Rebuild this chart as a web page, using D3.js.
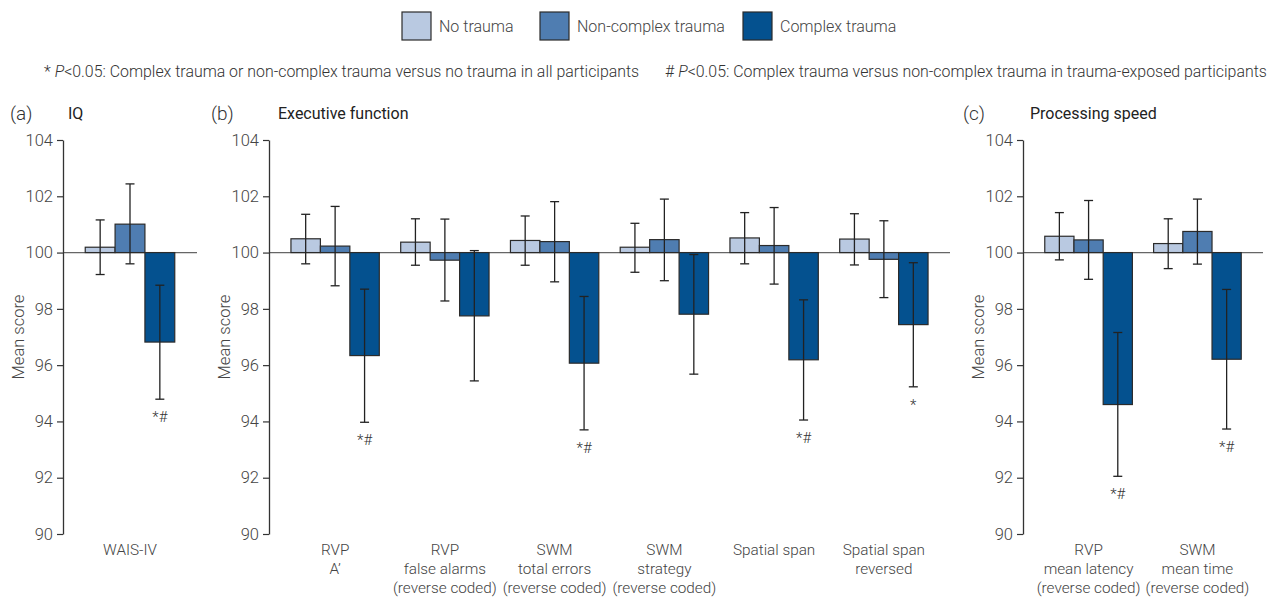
<!DOCTYPE html>
<html>
<head>
<meta charset="utf-8">
<script src="https://cdn.jsdelivr.net/npm/d3@7"></script>
<style>
  body { margin: 0; background: #fff; }
  svg { font-family: Roboto, "Noto Sans", sans-serif; font-weight: 300; }
</style>
</head>
<body>
<svg id="chart" width="1269" height="597"></svg>
<script>
// groups (legend)
const groups = ["No trauma", "Non-complex trauma", "Complex trauma"];
const groupColors = ["#b9c9e1", "#4f7db1", "#04518f"];

// (a) IQ
const iqTests = [["WAIS-IV"]];
const iqMeans = [[100.19, 101.01, 96.82]];
const iqLow = [[99.22, 99.60, 94.79]];
const iqHigh = [[101.16, 102.44, 98.84]];
const iqSig = ["*#"];

// (b) Executive function
const efTests = [
  ["RVP", "A\u2019"],
  ["RVP", "false alarms", "(reverse coded)"],
  ["SWM", "total errors", "(reverse coded)"],
  ["SWM", "strategy", "(reverse coded)"],
  ["Spatial span"],
  ["Spatial span", "reversed"]
];
const efMeans = [
  [100.49, 100.23, 96.34],
  [100.37, 99.73, 97.75],
  [100.43, 100.39, 96.07],
  [100.19, 100.46, 97.81],
  [100.52, 100.25, 96.19],
  [100.48, 99.76, 97.44]
];
const efLow = [
  [99.60, 98.82, 93.97],
  [99.55, 98.28, 95.44],
  [99.55, 98.96, 93.70],
  [99.30, 99.00, 95.68],
  [99.60, 98.88, 94.05],
  [99.56, 98.40, 95.23]
];
const efHigh = [
  [101.36, 101.64, 98.70],
  [101.20, 101.19, 100.07],
  [101.30, 101.81, 98.44],
  [101.04, 101.90, 99.93],
  [101.42, 101.60, 98.32],
  [101.38, 101.13, 99.64]
];
const efSig = ["*#", "", "*#", "", "*#", "*"];

// (c) Processing speed
const psTests = [
  ["RVP", "mean latency", "(reverse coded)"],
  ["SWM", "mean time", "(reverse coded)"]
];
const psMeans = [[100.58, 100.45, 94.60], [100.32, 100.75, 96.21]];
const psLow = [[99.74, 99.05, 92.05], [99.43, 99.59, 93.73]];
const psHigh = [[101.42, 101.85, 97.16], [101.20, 101.90, 98.69]];
const psSig = ["*#", "*#"];

const yTicks = [90, 92, 94, 96, 98, 100, 102, 104];

const svg = d3.select("#chart");

// shared y scale
const y = d3.scaleLinear().domain([90, 104]).range([534, 140]);

const panels = [
  { tag: "(a)", title: "IQ", x0: 63, x1: 197, tagX: 10, titleX: 68,
    tests: iqTests, means: iqMeans, low: iqLow, high: iqHigh, sig: iqSig },
  { tag: "(b)", title: "Executive function", x0: 269, x1: 950, tagX: 211, titleX: 278,
    tests: efTests, means: efMeans, low: efLow, high: efHigh, sig: efSig },
  { tag: "(c)", title: "Processing speed", x0: 1023, x1: 1263, tagX: 963, titleX: 1030,
    tests: psTests, means: psMeans, low: psLow, high: psHigh, sig: psSig }
];

panels.forEach(function (p) {
  const g = svg.append("g");

  const x = d3.scaleBand()
    .domain(d3.range(p.tests.length))
    .range([p.x0, p.x1])
    .paddingInner(0.195)
    .paddingOuter(0.2);

  const xSub = d3.scaleBand()
    .domain(d3.range(groups.length))
    .range([0, x.bandwidth()]);

  // baseline at 100
  g.append("line")
    .attr("x1", p.x0).attr("x2", p.x1)
    .attr("y1", y(100)).attr("y2", y(100))
    .attr("stroke", "#666").attr("stroke-width", 1.3);

  p.tests.forEach(function (t, i) {
    const tg = g.append("g").attr("transform", "translate(" + x(i) + ",0)");

    // bars
    tg.selectAll("rect")
      .data(p.means[i])
      .enter()
      .append("rect")
      .attr("x", (d, j) => xSub(j))
      .attr("width", xSub.bandwidth())
      .attr("y", d => Math.min(y(d), y(100)))
      .attr("height", d => Math.abs(y(d) - y(100)))
      .attr("fill", (d, j) => groupColors[j])
      .attr("stroke", "#2b2b2b")
      .attr("stroke-width", 1.2);

    // error bars
    groups.forEach(function (gr, j) {
      const cx = xSub(j) + xSub.bandwidth() / 2;
      const lo = y(p.low[i][j]), hi = y(p.high[i][j]);
      tg.append("line").attr("x1", cx).attr("x2", cx).attr("y1", lo).attr("y2", hi)
        .attr("stroke", "#222").attr("stroke-width", 1.3);
      [lo, hi].forEach(function (yy) {
        tg.append("line").attr("x1", cx - 4.5).attr("x2", cx + 4.5).attr("y1", yy).attr("y2", yy)
          .attr("stroke", "#222").attr("stroke-width", 1.3);
      });
    });

    // significance marks
    if (p.sig[i]) {
      const cx = xSub(2) + xSub.bandwidth() / 2;
      tg.append("text")
        .attr("x", cx)
        .attr("y", y(p.low[i][2]) + 23)
        .attr("text-anchor", "middle")
        .attr("font-size", "15px")
        .attr("fill", "#333")
        .text(p.sig[i]);
    }

    // x labels
    const lab = g.append("text")
      .attr("text-anchor", "middle")
      .attr("font-size", "15.3px")
      .attr("fill", "#444");
    t.forEach(function (line, k) {
      lab.append("tspan")
        .attr("x", x(i) + x.bandwidth() / 2)
        .attr("y", 555 + k * 19)
        .text(line);
    });
  });

  // y axis
  const ax = g.append("g")
    .attr("transform", "translate(" + p.x0 + ",0)")
    .call(d3.axisLeft(y).tickValues(yTicks).tickSize(6).tickSizeOuter(0));
  ax.select(".domain").attr("stroke", "#333").attr("stroke-width", 1.3);
  ax.selectAll(".tick line").attr("stroke", "#333").attr("stroke-width", 1.2);
  ax.selectAll(".tick text")
    .attr("font-size", "16.5px")
    .attr("font-family", "Roboto, sans-serif")
    .attr("font-weight", 300)
    .attr("fill", "#444")
    .attr("x", -10);

  g.append("text")
    .attr("transform", "translate(" + (p.x0 - 45) + "," + ((y(90) + y(104)) / 2) + ") rotate(-90)")
    .attr("text-anchor", "middle")
    .attr("dy", "0.35em")
    .attr("font-size", "16.5px")
    .attr("fill", "#444")
    .text("Mean score");

  // panel tag + title
  g.append("text")
    .attr("x", p.tagX).attr("y", 120)
    .attr("font-size", "19px").attr("fill", "#333")
    .text(p.tag);
  g.append("text")
    .attr("x", p.titleX).attr("y", 119)
    .attr("font-size", "16px").attr("font-weight", 400).attr("fill", "#222")
    .text(p.title);
});

// legend
const legendX = [402, 540, 743];
groups.forEach(function (gr, j) {
  svg.append("rect")
    .attr("x", legendX[j]).attr("y", 12)
    .attr("width", 29).attr("height", 28)
    .attr("fill", groupColors[j])
    .attr("stroke", "#2b2b2b").attr("stroke-width", 1.2);
  svg.append("text")
    .attr("x", legendX[j] + 37).attr("y", 32)
    .attr("font-size", "16px").attr("fill", "#444")
    .text(gr);
});

// footnotes
const notes = [
  { x: 44, sym: "* ", rest: "<0.05: Complex trauma or non-complex trauma versus no trauma in all participants" },
  { x: 665, sym: "# ", rest: "<0.05: Complex trauma versus non-complex trauma in trauma-exposed participants" }
];
notes.forEach(function (n) {
  const t = svg.append("text")
    .attr("x", n.x).attr("y", 77)
    .attr("font-size", "15.9px").attr("fill", "#333");
  t.append("tspan").text(n.sym);
  t.append("tspan").attr("font-style", "italic").text("P");
  t.append("tspan").text(n.rest);
});
</script>
</body>
</html>
